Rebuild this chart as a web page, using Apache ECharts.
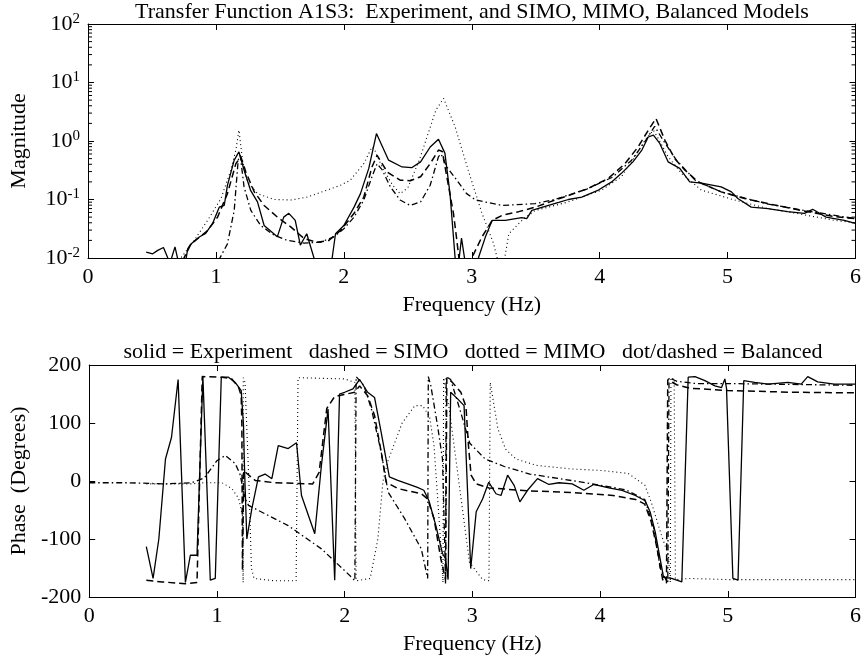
<!DOCTYPE html>
<html><head><meta charset="utf-8">
<script src="https://cdn.jsdelivr.net/npm/echarts@6/dist/echarts.min.js"></script>
<style>html,body{margin:0;padding:0;background:#fff}#c{width:864px;height:667px}</style>
</head><body><div id="c"></div>
<script>
// ---------- data ----------
const xTicks = [0,1,2,3,4,5,6];
const magTicks = [0.01,0.1,1,10,100];
const phaseTicks = [-200,-100,0,100,200];

// Magnitude: Experiment (solid)
const magExpF = [0.455,0.506,0.545,0.59,0.62,0.64,0.68,0.71,0.76,0.78,0.805,0.87,0.92,0.974,1.026,1.065,1.09,1.143,1.18,1.22,1.27,1.325,1.377,1.48,1.53,1.57,1.62,1.66,1.71,1.78,1.90,1.91,1.935,2.0,2.08,2.13,2.195,2.255,2.35,2.455,2.53,2.6,2.675,2.74,2.79,2.83,2.87,2.89,2.92,2.95,3.04,3.055,3.107,3.16,3.263,3.39,3.43,3.47,3.60,3.68,3.756,3.86,3.99,4.094,4.17,4.26,4.33,4.38,4.42,4.47,4.535,4.626,4.704,4.795,4.95,5.03,5.08,5.185,5.315,5.47,5.6,5.665,5.77,5.912,6.0];
const magExpV = [0.0126,0.0118,0.0135,0.0151,0.0105,0.008,0.0155,0.008,0.008,0.0145,0.0174,0.0229,0.0263,0.039,0.074,0.079,0.174,0.47,0.65,0.32,0.145,0.091,0.036,0.023,0.050,0.058,0.044,0.0166,0.026,0.008,0.008,0.0105,0.026,0.036,0.074,0.126,0.34,1.34,0.47,0.36,0.35,0.44,0.79,1.07,0.62,0.126,0.01,0.006,0.0219,0.008,0.008,0.0105,0.023,0.044,0.044,0.049,0.047,0.065,0.079,0.089,0.10,0.11,0.145,0.20,0.28,0.44,0.70,1.17,1.26,0.91,0.44,0.34,0.20,0.19,0.164,0.135,0.104,0.074,0.070,0.062,0.058,0.068,0.050,0.044,0.039];

// Magnitude: SIMO (dashed)
const magSimoF = [0.74,0.805,0.857,0.935,1.013,1.09,1.156,1.195,1.234,1.30,1.377,1.48,1.585,1.69,1.79,1.883,1.974,2.08,2.156,2.22,2.26,2.34,2.44,2.52,2.6,2.675,2.74,2.77,2.805,2.857,2.88,2.90,2.95,3.0,3.08,3.16,3.24,3.367,3.497,3.65,3.756,3.912,4.068,4.198,4.30,4.38,4.44,4.51,4.587,4.665,4.77,4.95,5.133,5.315,5.575,5.834,6.0];
const magSimoV = [0.009,0.0174,0.0214,0.0295,0.050,0.126,0.41,0.54,0.295,0.135,0.079,0.050,0.034,0.0214,0.0186,0.020,0.0295,0.058,0.11,0.36,0.57,0.295,0.214,0.209,0.245,0.41,0.70,0.66,0.245,0.058,0.023,0.010,0.005,0.01,0.023,0.044,0.054,0.062,0.074,0.098,0.117,0.155,0.23,0.41,0.79,1.53,2.43,1.03,0.50,0.32,0.20,0.135,0.104,0.085,0.065,0.051,0.047];

// Magnitude: MIMO (dotted)
const magMimoF = [0.71,0.83,0.935,1.04,1.117,1.156,1.18,1.208,1.247,1.325,1.455,1.585,1.714,1.87,1.974,2.05,2.156,2.22,2.24,2.30,2.38,2.44,2.50,2.59,2.72,2.78,2.87,2.98,3.08,3.17,3.21,3.25,3.29,3.406,3.497,3.756,4.016,4.17,4.276,4.354,4.42,4.458,4.535,4.64,4.795,5.055,5.315,5.575,5.834,6.0];
const magMimoV = [0.009,0.020,0.044,0.104,0.32,0.70,1.53,0.47,0.20,0.126,0.100,0.098,0.11,0.145,0.175,0.214,0.41,0.79,0.71,0.355,0.178,0.126,0.158,0.47,3.39,5.35,1.74,0.28,0.058,0.0178,0.008,0.008,0.026,0.047,0.065,0.091,0.145,0.245,0.54,1.03,1.53,1.10,0.54,0.28,0.145,0.098,0.070,0.056,0.044,0.040];

// Magnitude: Balanced (dot/dashed)
const magBalF = [1.02,1.09,1.143,1.174,1.19,1.22,1.273,1.35,1.455,1.558,1.69,1.818,1.922,2.0,2.08,2.156,2.22,2.26,2.30,2.364,2.44,2.52,2.6,2.675,2.74,2.76,2.805,2.883,2.96,3.03,3.24,3.497,3.65,3.9,4.1,4.25,4.35,4.43,4.5,4.6,4.75,4.95,5.3,5.6,6.0];
const magBalV = [0.009,0.0174,0.065,0.47,0.57,0.164,0.065,0.036,0.0245,0.020,0.018,0.0186,0.023,0.0316,0.050,0.098,0.245,0.41,0.32,0.164,0.098,0.079,0.091,0.175,0.54,0.60,0.36,0.214,0.126,0.098,0.079,0.085,0.10,0.151,0.24,0.47,0.95,1.78,1.0,0.47,0.21,0.135,0.085,0.065,0.047];

// Phase: Experiment (solid)
const phExpF = [0.447,0.50,0.545,0.597,0.644,0.696,0.753,0.792,0.844,0.89,0.948,0.987,1.034,1.09,1.143,1.19,1.208,1.216,1.234,1.273,1.325,1.377,1.43,1.48,1.558,1.623,1.662,1.766,1.818,1.87,1.922,1.96,2.0,2.065,2.117,2.18,2.234,2.286,2.35,2.416,2.494,2.57,2.62,2.66,2.714,2.766,2.79,2.81,2.83,2.883,2.935,2.987,3.03,3.08,3.128,3.185,3.224,3.276,3.328,3.372,3.432,3.51,3.6,3.678,3.782,3.873,3.95,4.068,4.172,4.276,4.353,4.393,4.432,4.47,4.497,4.56,4.64,4.69,4.743,4.821,4.899,4.951,4.977,4.99,5.04,5.08,5.125,5.21,5.315,5.47,5.575,5.626,5.704,5.834,6.0];
const phExpV = [-113,-168,-100,38,75,175,-175,-128,-128,180,-171,-168,179,179,170,156,96,21,-100,-48,7,12,4,61,56,66,-25,-91,27,124,-171,150,153,159,175,153,144,84,7,1,-5,-11,-16,-34,-77,-125,-134,-170,153,142,130,-151,-53,-31,-2,-22,-25,10,-8,-36,-16,4,-6,-3,-5,-16,-6,-12,-16,-25,-34,-54,-88,-134,-166,-168,-174,179,180,173,164,161,176,160,-168,-171,173,170,167,170,167,180,171,167,167];

// Phase: SIMO (dashed)
const phSimoF = [0.447,0.571,0.753,0.844,0.858,0.885,1.04,1.117,1.17,1.19,1.195,1.20,1.21,1.25,1.3,1.45,1.6,1.75,1.80,1.86,1.92,1.95,2.08,2.117,2.18,2.234,2.286,2.325,2.416,2.6,2.65,2.70,2.753,2.79,2.80,2.844,2.91,2.95,2.97,2.99,3.03,3.13,3.45,3.8,4.1,4.28,4.35,4.40,4.45,4.49,4.52,4.53,4.55,4.6,4.7,5.0,5.5,6.0];
const phSimoV = [-171,-174,-177,-175,-172,180,179,176,161,147,100,-154,18,10,1,-3,-4,-5,15,125,145,147,153,164,147,113,50,-2,-13,-22,-31,-65,-134,-170,178,170,153,128,60,10,-5,-12,-17,-20,-25,-32,-40,-70,-120,-170,-176,175,172,166,160,156,153,152];

// Phase: MIMO (dotted)
const phMimoF = [0.447,0.6,0.8,0.9,1.04,1.117,1.17,1.20,1.205,1.206,1.22,1.25,1.27,1.29,1.45,1.62,1.635,1.66,2.0,2.08,2.09,2.2,2.26,2.3,2.34,2.45,2.55,2.61,2.665,2.7,2.75,2.77,2.775,2.82,2.977,3.08,3.13,3.14,3.2,3.26,3.34,3.5,3.76,4.02,4.22,4.35,4.4,4.48,4.535,4.55,4.555,4.58,4.59,4.7,5.0,6.0];
const phMimoV = [-5,-5,-5,-3,-3,-13,-30,-60,-175,178,170,0,-150,-168,-172,-172,178,178,176,170,-172,-168,-100,0,35,100,130,130,111,60,-100,-175,178,123,-140,-170,-172,170,90,55,38,27,21,18,13,-7,-36,-93,-128,-175,178,175,-170,-168,-170,-170];

// Phase: Balanced (dot/dashed)
const phBalF = [0.0,0.3,0.6,0.8,0.9,0.95,1.0,1.065,1.143,1.18,1.22,1.247,1.558,1.818,2.05,2.08,2.09,2.15,2.21,2.286,2.34,2.47,2.6,2.65,2.655,2.675,2.727,2.766,2.785,2.79,2.795,2.83,2.9,2.98,3.1,3.25,3.45,3.8,4.2,4.35,4.42,4.47,4.53,4.54,4.6,4.75,5.0,6.0];
const phBalV = [-3,-3,-5,-3,5,20,35,44,30,12,-30,-42,-77,-117,-165,-172,180,165,124,50,-19,-65,-117,-168,180,164,96,38,-120,-178,180,175,125,65,38,25,12,0,-15,-32,-80,-150,-176,178,172,168,168,165];

// ---------- helpers ----------
const zip = (f, v) => f.map((x, i) => [x, v[i]]);
const FONT = 'Liberation Serif';
const FS = 22;
const minorLog = [];
for (let e = -2; e < 2; e++) for (let k = 2; k <= 9; k++) minorLog.push(+(k * Math.pow(10, e)).toPrecision(3));

const black = '#000';
const solid = {color: black, width: 1.3, type: 'solid'};
const dashed = {color: black, width: 1.5, type: [7, 4]};
const dotted = {color: black, width: 1.1, type: [1, 3]};
const dashdot = {color: black, width: 1.3, type: [6, 3, 1.5, 3]};

function mkLine(name, data, xi, yi, ls) {
  return {type: 'line', name, data, xAxisIndex: xi, yAxisIndex: yi, showSymbol: false, symbol: 'none',
    lineStyle: ls, itemStyle: {color: black}, clip: true, animation: false, z: 3};
}

const tickStyle = {show: true, inside: true, length: 6, lineStyle: {color: black, width: 1}};
const axLine = {show: true, onZero: false, lineStyle: {color: black, width: 1}};
const lbl = {color: black, fontFamily: FONT, fontSize: FS};
const nameStyle = {color: black, fontFamily: FONT, fontSize: FS};

const grids = [
  {left: 88, right: 6, top: 24, height: 234},
  {left: 88, right: 6, top: 365, height: 232}
];

function xAx(gi, pos, show) {
  return {type: 'value', gridIndex: gi, min: 0, max: 6, interval: 1, position: pos,
    axisLine: axLine, axisTick: tickStyle, splitLine: {show: false},
    axisLabel: show ? Object.assign({margin: 8}, lbl) : {show: false},
    name: show ? 'Frequency (Hz)' : '', nameLocation: 'middle', nameGap: 36,
    nameTextStyle: nameStyle};
}

const option = {
  backgroundColor: '#fff',
  animation: false,
  grid: grids,
  xAxis: [xAx(0, 'bottom', true), xAx(0, 'top', false), xAx(1, 'bottom', true), xAx(1, 'top', false)],
  yAxis: [
    {type: 'log', logBase: 10, gridIndex: 0, min: 0.01, max: 100, position: 'left',
      axisLine: axLine, axisTick: tickStyle, splitLine: {show: false},
      axisLabel: {margin: 8, formatter: v => '{b|10}{s|' + Math.round(Math.log10(v)) + '}',
        rich: {b: {color: black, fontFamily: FONT, fontSize: FS}, s: {color: black, fontFamily: FONT, fontSize: 15, padding: [0, 0, 10, 0]}}},
      name: 'Magnitude', nameLocation: 'middle', nameGap: 58, nameRotate: 90,
      nameTextStyle: nameStyle},
    {type: 'log', logBase: 10, gridIndex: 0, min: 0.01, max: 100, position: 'right',
      axisLine: axLine, axisTick: tickStyle, splitLine: {show: false}, axisLabel: {show: false}},
    {type: 'value', gridIndex: 1, min: -200, max: 200, interval: 100, position: 'left',
      axisLine: axLine, axisTick: tickStyle, splitLine: {show: false},
      axisLabel: Object.assign({margin: 8}, lbl),
      name: 'Phase  (Degrees)', nameLocation: 'middle', nameGap: 58, nameRotate: 90,
      nameTextStyle: nameStyle},
    {type: 'value', gridIndex: 1, min: -200, max: 200, interval: 100, position: 'right',
      axisLine: axLine, axisTick: tickStyle, splitLine: {show: false}, axisLabel: {show: false}}
  ],
  graphic: [
    {type: 'text', x: 472, y: 12, style: {text: 'Transfer Function A1S3:  Experiment, and SIMO, MIMO, Balanced Models',
      fill: black, font: FS + 'px "Liberation Serif"', align: 'center', verticalAlign: 'middle', textAlign: 'center', textVerticalAlign: 'middle'}},
    {type: 'text', x: 473, y: 352, style: {text: 'solid = Experiment   dashed = SIMO   dotted = MIMO   dot/dashed = Balanced',
      fill: black, font: FS + 'px "Liberation Serif"', align: 'center', verticalAlign: 'middle', textAlign: 'center', textVerticalAlign: 'middle'}}
  ],
  series: [
    {type: 'custom', xAxisIndex: 0, yAxisIndex: 0, silent: true, animation: false, clip: false,
      data: minorLog.map(v => [0, v]),
      renderItem: function (params, api) {
        const y = api.coord([0, api.value(1)])[1];
        const cs = params.coordSys;
        const st = {stroke: black, lineWidth: 1};
        return {type: 'group', children: [
          {type: 'line', shape: {x1: cs.x, y1: y, x2: cs.x + 4, y2: y}, style: st},
          {type: 'line', shape: {x1: cs.x + cs.width - 4, y1: y, x2: cs.x + cs.width, y2: y}, style: st}
        ]};
      }},
    mkLine('Experiment', zip(magExpF, magExpV), 0, 0, solid),
    mkLine('SIMO', zip(magSimoF, magSimoV), 0, 0, dashed),
    mkLine('MIMO', zip(magMimoF, magMimoV), 0, 0, dotted),
    mkLine('Balanced', zip(magBalF, magBalV), 0, 0, dashdot),
    mkLine('Experiment', zip(phExpF, phExpV), 2, 2, solid),
    mkLine('SIMO', zip(phSimoF, phSimoV), 2, 2, dashed),
    mkLine('MIMO', zip(phMimoF, phMimoV), 2, 2, dotted),
    mkLine('Balanced', zip(phBalF, phBalV), 2, 2, dashdot)
  ]
};
const chart = echarts.init(document.getElementById('c'), null, {renderer: 'canvas'});
chart.setOption(option);
</script></body></html>
